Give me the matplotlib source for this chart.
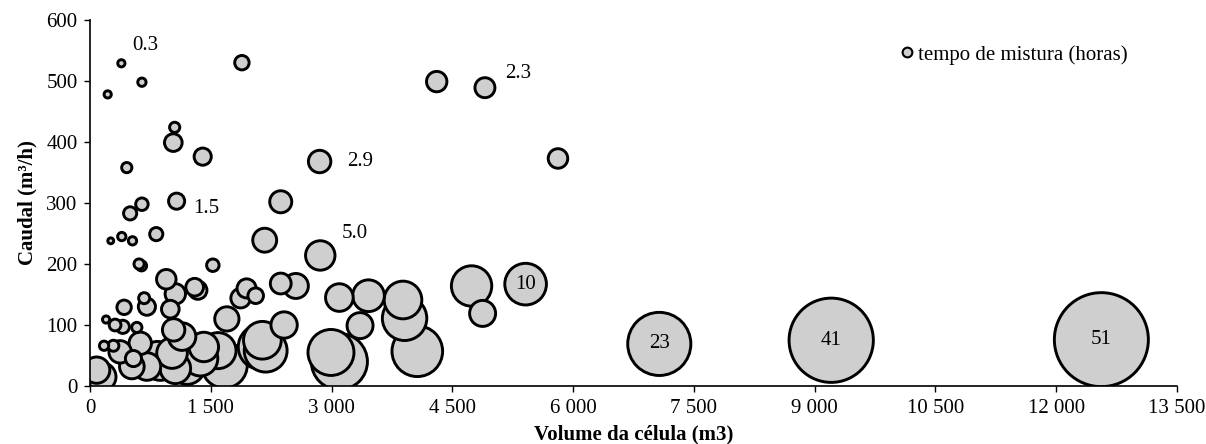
import matplotlib.pyplot as plt
import numpy as np
from matplotlib.lines import Line2D
from matplotlib.ticker import FuncFormatter

plt.rcParams['font.family'] = ['Liberation Serif', 'DejaVu Serif']

# volume da célula (m3), caudal (m3/h), tempo de mistura (horas)
volume = [390, 645, 220, 1887, 1052, 1035, 1400, 2852, 457, 645,
          499, 1076, 2369, 4306, 4905, 5812, 2860, 2170, 1526, 258,
          395, 528, 823, 610, 640, 948, 1300, 1340, 1945, 1871,
          2058, 2369, 2557, 1060, 998, 673, 707, 424, 200, 312,
          408, 582, 1039, 1700, 2411, 3097, 3459, 3887, 3907, 4065,
          3354, 2993, 3097, 4739, 4876, 5410, 7070, 9205, 12560, 2141,
          2182, 2120, 1670, 1590, 1371, 1206, 1143, 175, 291, 540,
          520, 624, 374, 146, 83, 707, 873, 1060, 1019, 839, 1414]
caudal = [529, 498, 478, 530, 424, 399, 376, 368, 358, 298,
          283, 303, 302, 499, 489, 373, 214, 239, 198, 238,
          245, 238, 249, 200, 197, 175, 162, 157, 160, 144,
          148, 168, 164, 151, 126, 144, 130, 129, 109, 100,
          97, 96, 92, 110, 100, 145, 148, 141, 111, 57,
          99, 55, 40, 164, 119, 167, 69, 75, 76, 75,
          58, 64, 34, 58, 45, 32, 81, 66, 66, 45,
          32, 70, 56, 15, 26, 32, 37, 29, 54, 48, 64]
tempo = [0.3, 0.4, 0.3, 1.2, 0.6, 1.8, 1.7, 2.9, 0.6, 0.9,
         1.0, 1.5, 2.8, 2.4, 2.3, 2.2, 5.0, 3.3, 0.9, 0.2,
         0.4, 0.4, 1.0, 0.6, 0.6, 2.2, 1.8, 1.9, 2.1, 2.2,
         1.4, 2.5, 3.6, 2.4, 1.8, 0.7, 1.7, 1.2, 0.3, 0.8,
         1.0, 0.6, 2.9, 3.4, 4.0, 4.4, 5.8, 8.2, 11.4, 14.8,
         3.9, 12.2, 18.2, 9.4, 3.9, 10, 23, 41, 51, 8.2,
         10.6, 11.6, 12.0, 7.5, 7.0, 7.4, 4.4, 0.5, 0.7, 1.5,
         3.5, 2.9, 2.9, 4.7, 4.0, 4.4, 6.6, 5.4, 5.4, 5.4, 5.0]

# pontos com rótulo (índice, texto)
rotulos = [(0, '0.3'), (14, '2.3'), (7, '2.9'), (11, '1.5'), (16, '5.0'),
           (55, '10'), (56, '23'), (57, '41'), (58, '51')]
desloc = {'0.3': (17, 13), '2.3': (24, 10), '2.9': (29, 0), '1.5': (21, -5),
          '5.0': (25, 16)}

vol = np.array(volume)
cau = np.array(caudal)
tem = np.array(tempo)
tam = (0.72 * 94) ** 2 * tem / tem.max()
ordem = np.argsort(-tem)

fig = plt.figure(figsize=(12.06, 4.44), dpi=100)
ax = fig.add_axes([0.0746, 0.1306, 0.9014, 0.8244])

ax.scatter(vol[ordem], cau[ordem], s=tam[ordem], c='#cfcfcf',
           edgecolors='black', linewidths=2.1, zorder=2)

for i, txt in rotulos:
    dx, dy = desloc.get(txt, (0, 0))
    ax.annotate(txt, xy=(vol[i], cau[i]), xytext=(dx, dy),
                textcoords='offset points', ha='center', va='center',
                fontsize=15, zorder=3)

ax.set_xlim(0, 13500)
ax.set_ylim(0, 600)
ax.set_xticks(np.arange(0, 13501, 1500))
ax.set_yticks(np.arange(0, 601, 100))
ax.xaxis.set_major_formatter(FuncFormatter(lambda v, p: f'{int(v):,}'.replace(',', ' ')))
ax.tick_params(labelsize=15, length=4, width=1, direction='out', pad=5)

for lado in ['top', 'right']:
    ax.spines[lado].set_visible(False)
for lado in ['left', 'bottom']:
    ax.spines[lado].set_linewidth(1.2)

ax.set_xlabel('Volume da célula (m3)', fontsize=15, fontweight='bold', labelpad=5)
ax.set_ylabel('Caudal (m³/h)', fontsize=15, fontweight='bold', labelpad=6)

proxy = Line2D([], [], marker='o', linestyle='none', markersize=7,
               markerfacecolor='#cfcfcf', markeredgecolor='black', markeredgewidth=1.5)
ax.legend([proxy], ['tempo de mistura (horas)'], loc='upper right',
          bbox_to_anchor=(0.962, 0.955), frameon=False, fontsize=15,
          handletextpad=0.1, borderaxespad=0, handlelength=0.8)

fig.savefig('out.png', dpi=100)
